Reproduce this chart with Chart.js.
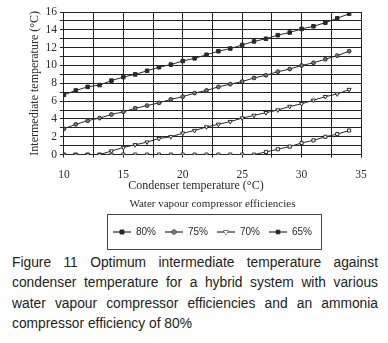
<!DOCTYPE html>
<html><head><meta charset="utf-8">
<script src="https://cdn.jsdelivr.net/npm/chart.js@4/dist/chart.umd.min.js"></script>
<style>
html,body{margin:0;padding:0;background:#fff;width:388px;height:343px;overflow:hidden}
#wrap{position:absolute;left:0;top:0;width:388px;height:253px}
#cap{position:absolute;left:12px;top:253px;width:366px;font-family:"Liberation Sans",Arial,sans-serif;font-size:13.8px;line-height:20.3px;color:#222;text-align:justify}
</style></head><body>
<div id="wrap"><canvas id="c"></canvas></div>
<div id="cap">Figure 11 Optimum intermediate temperature against condenser temperature for a hybrid system with various water vapour compressor efficiencies and an ammonia compressor efficiency of 80%</div>
<script>
const condenserTemps = [10,11,12,13,14,15,16,17,18,19,20,21,22,23,24,25,26,27,28,29,30,31,32,33,34];
const eff80 = [6.7,7.2,7.6,7.8,8.3,8.7,9.0,9.4,9.8,10.1,10.5,10.8,11.2,11.6,11.9,12.3,12.7,13.0,13.4,13.7,14.1,14.4,14.8,15.3,15.8];
const eff75 = [2.9,3.4,3.8,4.1,4.5,4.8,5.2,5.5,5.8,6.2,6.5,6.9,7.2,7.6,7.9,8.2,8.6,8.9,9.3,9.6,10.0,10.3,10.7,11.1,11.6];
const eff70 = [0,0,0,0,0.4,0.8,1.1,1.4,1.8,2.0,2.4,2.7,3.1,3.4,3.7,4.1,4.4,4.7,5.0,5.4,5.7,6.1,6.5,6.8,7.3];
const eff65 = [0,0,0,0,0,0,0,0,0,0,0,0,0,0,0,0,0,0.3,0.6,0.9,1.3,1.6,2.0,2.3,2.7];
const seriesLabels = ['80%','75%','70%','65%'];
const yTickLabels = [0,2,4,6,8,10,12,14,16];
const xTickLabels = [10,15,20,25,30,35];

const pts = arr => condenserTemps.map((x,i)=>({x:x,y:arr[i]}));
const ink = '#2a2a2a';
const serif = '"Liberation Serif","Times New Roman",serif';

const styles = [
  {pointStyle:'rect', fill:ink, r:2.5, rot:0},
  {pointStyle:'circle', fill:'#777', r:1.9, rot:0},
  {pointStyle:'triangle', fill:'#fff', r:2.4, rot:180},
  {pointStyle:'rect', fill:ink, r:2.2, rot:0}
];
function legendIcon(s){
  const c = document.createElement('canvas');
  c.width = 18; c.height = 8;
  const ctx = c.getContext('2d');
  ctx.strokeStyle = ink; ctx.lineWidth = 1.2;
  ctx.beginPath(); ctx.moveTo(0,4); ctx.lineTo(18,4); ctx.stroke();
  ctx.fillStyle = s.fill; ctx.lineWidth = 1;
  Chart.helpers.drawPoint(ctx, {pointStyle:s.pointStyle, radius:s.r+0.3, rotation:s.rot, borderWidth:1}, 9, 4);
  ctx.fill();
  return c;
}

const legendBox = {
  id:'legendBox',
  afterDraw(chart){
    const lg = chart.legend; if(!lg || !lg.legendHitBoxes.length) return;
    const ctx = chart.ctx;
    const hb = lg.legendHitBoxes;
    const first = hb[0], last = hb[hb.length-1];
    const x0 = Math.round(first.left) - 5.5, x1 = Math.round(last.left + last.width) + 9.5;
    const yc = first.top + first.height/2;
    ctx.save();
    ctx.strokeStyle = '#444'; ctx.lineWidth = 1;
    ctx.strokeRect(x0, Math.round(yc-18)+0.5, x1-x0, 35);
    ctx.restore();
  }
};

const datasets = [eff80,eff75,eff70,eff65].map((arr,i)=>({
  label:seriesLabels[i], data:pts(arr), borderColor:ink, backgroundColor:i===3?'#fff':styles[i].fill,
  borderWidth:1, pointStyle:styles[i].pointStyle, rotation:styles[i].rot, pointRadius:styles[i].r, pointBorderWidth:1
}));

new Chart(document.getElementById('c'), {
  type:'line',
  data:{datasets:datasets},
  options:{
    responsive:true, maintainAspectRatio:false, animation:false,
    layout:{padding:{left:28,right:27,top:12,bottom:6}},
    plugins:{
      legend:{position:'bottom', align:'center', fullSize:false,
        title:{display:true, text:'Water vapour compressor efficiencies', color:ink, font:{family:serif,size:11}, padding:{top:6,bottom:6}},
        labels:{color:ink, font:{family:'"Liberation Sans",Arial,sans-serif',size:10}, usePointStyle:true, pointStyleWidth:18, boxHeight:8, padding:9,
          generateLabels(chart){
            return chart.data.datasets.map((d,i)=>({text:d.label, pointStyle:legendIcon(styles[i]), fontColor:ink, lineWidth:0, strokeStyle:'rgba(0,0,0,0)', fillStyle:'rgba(0,0,0,0)', datasetIndex:i, hidden:false}));
          }
        }
      },
      tooltip:{enabled:false}
    },
    scales:{
      x:{type:'linear', min:10, max:35,
        ticks:{stepSize:2.5, autoSkip:false, maxTicksLimit:100, color:ink, font:{family:serif,size:11.5}, padding:10, maxRotation:0,
          callback:v=> xTickLabels.includes(v) ? String(v) : ''},
        grid:{color:'#222', lineWidth:1, drawTicks:true, tickLength:3},
        border:{color:'#222', width:1},
        title:{display:true, text:'Condenser temperature (°C)' + '\u00a0'.repeat(11), color:ink, font:{family:serif,size:12}, padding:{top:-13,bottom:0}}
      },
      y:{min:0, max:16,
        ticks:{stepSize:1, autoSkip:false, maxTicksLimit:100, color:ink, font:{family:serif,size:11.5}, padding:3,
          callback:v=> yTickLabels.includes(v) ? String(v) : ''},
        grid:{color:'#222', lineWidth:1, drawTicks:true, tickLength:4},
        border:{color:'#222', width:1},
        title:{display:true, text:'Intermediate temperature (°C)', color:ink, font:{family:serif,size:12}, padding:{top:0,bottom:0}}
      }
    }
  },
  plugins:[legendBox]
});
</script>
</body></html>
